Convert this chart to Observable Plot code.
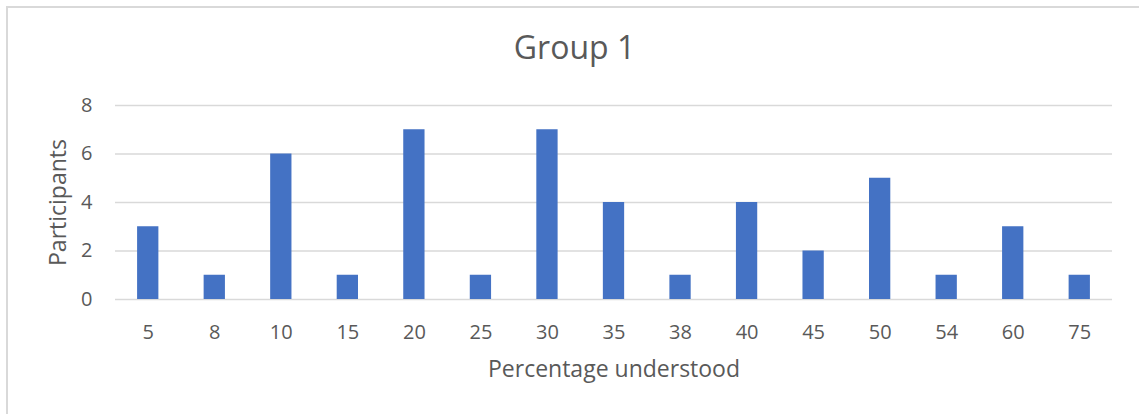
<!DOCTYPE html>
<html>
<head>
<meta charset="utf-8">
<script src="https://cdn.jsdelivr.net/npm/d3@7"></script>
<script src="https://cdn.jsdelivr.net/npm/@observablehq/plot@0.6"></script>
<style>
  html, body { margin: 0; padding: 0; background: #fff; }
  #wrap { position: relative; width: 1139px; height: 414px; overflow: hidden; font-family: "Open Sans", sans-serif; }
  #border { position: absolute; left: 6px; top: 6px; width: 1200px; height: 500px; border-left: 2px solid #d9d9d9; border-top: 2px solid #d9d9d9; box-sizing: border-box; }
  #title { position: absolute; left: 5px; top: 27px; width: 1139px; height: 40px; line-height: 40px; text-align: center; font-size: 32px; color: #595959; }
  #chart { position: absolute; left: 0; top: 80px; }
</style>
</head>
<body>
<div id="wrap">
  <div id="border"></div>
  <div id="title">Group 1</div>
  <div id="chart"></div>
</div>
<script>
const categories = ["5", "8", "10", "15", "20", "25", "30", "35", "38", "40", "45", "50", "54", "60", "75"];
const participants = [3, 1, 6, 1, 7, 1, 7, 4, 1, 4, 2, 5, 1, 3, 1];
const yTicks = [0, 2, 4, 6, 8];

const data = categories.map((c, i) => ({ category: c, value: participants[i] }));

const chart = Plot.plot({
  width: 1139,
  height: 334,
  marginLeft: 115,
  marginRight: 27,
  marginTop: 25,
  marginBottom: 115,
  style: { fontFamily: "'Open Sans', sans-serif", fontSize: "20px", color: "#595959", background: "transparent", overflow: "visible" },
  x: { domain: categories, paddingInner: 0.68, paddingOuter: 0.332, round: false, label: null },
  y: { domain: [0, 8], label: null },
  marks: [
    Plot.ruleY(yTicks, { stroke: "#d9d9d9", strokeWidth: 1.5 }),
    Plot.barY(data, { x: "category", y: "value", fill: "#4472C4" }),
    Plot.axisY({ ticks: yTicks, tickSize: 0, tickPadding: 23, fontSize: 20, label: null }),
    Plot.axisX({ tickSize: 0, tickPadding: 25, fontSize: 20, label: null }),
    Plot.text(["Participants"], { frameAnchor: "left", textAnchor: "middle", lineAnchor: "middle", dx: -57, rotate: -90, fontSize: 23, fill: "#595959" }),
    Plot.text(["Percentage understood"], { frameAnchor: "bottom", textAnchor: "middle", lineAnchor: "middle", dy: 70, fontSize: 23, fill: "#595959" })
  ]
});
document.getElementById("chart").appendChild(chart);
</script>
</body>
</html>
